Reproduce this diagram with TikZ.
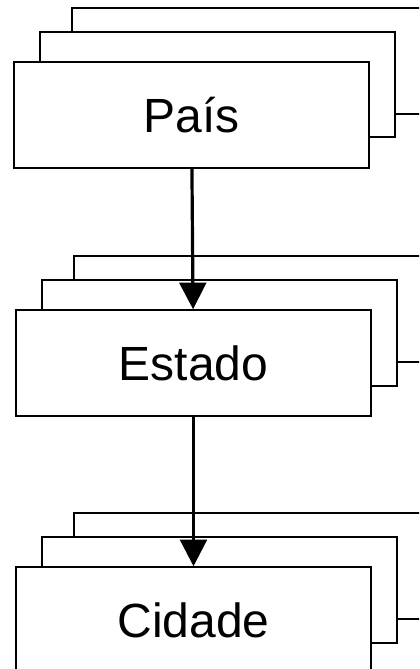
\documentclass[tikz,border=0pt]{standalone}
\usepackage{fontspec}
\setmainfont{Liberation Sans}
\usetikzlibrary{arrows.meta}
\tikzset{
  level/.style={draw, fill=white, line width=1.1pt, minimum width=266.25pt, minimum height=79.5pt, inner sep=0pt, font=\fontsize{36}{40}\selectfont},
  sheet/.style={draw, fill=white, line width=1.1pt},
  down/.style={line width=2.4pt, -{Triangle[width=20pt,length=20pt]}}
}
\begin{document}
\begin{tikzpicture}[x=0.75pt, y=-0.75pt]
			%%%%% START %%%%%
			
			\useasboundingbox (0, 0) rectangle (419, 669);
			\clip (0, 0) rectangle (419, 669);
			
			\draw[sheet] (72, 8) rectangle (427, 114);
			\draw[sheet] (40, 32) rectangle (395, 137);
			\node[level] (pais) at (191.5, 115) {País};
			
			\draw[sheet] (74, 256) rectangle (429, 362);
			\draw[sheet] (42, 280) rectangle (397, 386);
			\node[level] (estado) at (193.5, 363) {Estado};
			
			\draw[sheet] (74, 513) rectangle (429, 619);
			\draw[sheet] (42, 537) rectangle (397, 643);
			\node[level] (cidade) at (193.5, 620) {Cidade};
			
			\draw[down] (pais) -- (estado);
			\draw[down] (estado) -- (cidade);
			
			%%%%% END %%%%%
\end{tikzpicture}
\end{document}
